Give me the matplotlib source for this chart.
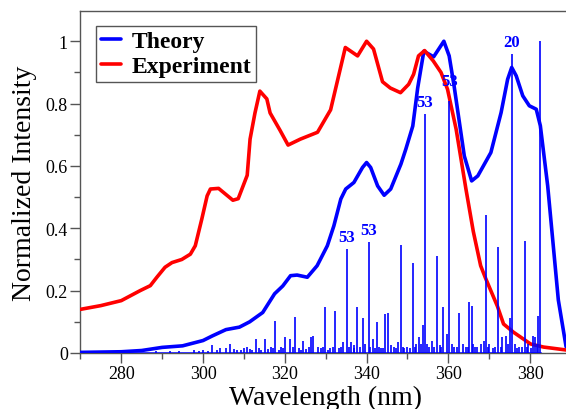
import matplotlib
matplotlib.use("Agg")
import matplotlib.pyplot as plt
from matplotlib.ticker import MultipleLocator

# ---- data ----
exp_nm = [270, 275, 280, 284.6, 287.1, 288.7, 290.7, 292.4, 294.8, 296.9, 298.1, 299.7, 301.0,
          301.8, 303.8, 307.3, 308.6, 310.8, 311.5, 312.7, 313.9, 315.6, 316.4, 318.8, 320.8,
          323.8, 328, 331.2, 334.8, 337.8, 340, 341.7, 343.9, 345.8, 348.3, 350.3, 351.5, 352.7,
          354.2, 356.3, 358.2, 359.8, 361.9, 364.3, 366.1, 367.9, 369.1, 372, 373.5, 375.9,
          380.1, 383.3, 388.6, 390]
exp_int = [0.14, 0.152, 0.168, 0.20, 0.216, 0.243, 0.275, 0.29, 0.30, 0.317, 0.344, 0.43, 0.504,
           0.526, 0.528, 0.49, 0.495, 0.57, 0.686, 0.77, 0.84, 0.815, 0.77, 0.715, 0.667,
           0.686, 0.708, 0.78, 0.98, 0.953, 1.0, 0.975, 0.87, 0.85, 0.835, 0.862, 0.894, 0.953,
           0.97, 0.937, 0.90, 0.846, 0.718, 0.526, 0.39, 0.28, 0.24, 0.15, 0.093, 0.067,
           0.029, 0.019, 0.01, 0.008]

th_nm = [270, 280, 285, 290, 295, 300, 302.3, 305.6, 308.9, 311.4, 314.6, 317.5, 319.5, 321.4,
         323.0, 325.5, 327.9, 330.4, 332.0, 333.7, 334.9, 336.9, 339.0, 340.0, 341.0, 342.7,
         344.3, 345.9, 348.4, 349.6, 351.3, 352.5, 354.0, 356.4, 358.9, 360.2, 361.4, 362.7,
         363.9, 365.7, 367.2, 370.4, 372.9, 374.5, 375.5, 376.6, 378.2, 379.8, 381.5, 382.5,
         384.3, 386.9, 388.8, 390]
th_int = [0.002, 0.004, 0.008, 0.018, 0.023, 0.04, 0.055, 0.075, 0.083, 0.10, 0.13, 0.19, 0.215,
          0.248, 0.25, 0.243, 0.28, 0.344, 0.408, 0.494, 0.526, 0.547, 0.595, 0.611, 0.595,
          0.536, 0.506, 0.526, 0.606, 0.654, 0.728, 0.85, 0.968, 0.95, 1.0, 0.953, 0.857, 0.74,
          0.632, 0.552, 0.568, 0.643, 0.771, 0.878, 0.916, 0.889, 0.825, 0.793, 0.782, 0.729,
          0.536, 0.17, 0.02, 0.005]

stick_nm = [335.1, 340.5, 354.3, 360.2, 375.5, 382.3,
            317.7, 322.5, 329.8, 332.3, 337.6, 339.1, 342.5, 344.5, 345.3, 348.4, 351.4, 353.8,
            357.2, 358.8, 362.7, 365.1, 365.7, 369.2, 372.2, 375.2, 378.8, 382.0, 380.7, 374.0,
            288.5, 292.0, 294.0, 297.9, 300.1, 302.2, 303.3, 304.2, 305.6, 306.7, 308.2, 310.1,
            310.7, 312.0, 313.0, 314.2, 315.2, 316.6, 318.5, 319.0, 320.1, 321.3, 323.4, 324.5,
            325.3, 326.4, 327.0, 328.2, 330.5, 331.1, 333.3, 334.3, 336.3, 337.0, 339.7, 341.6,
            343.6, 346.0, 346.8, 347.8, 349.2, 350.0, 352.2, 352.9, 355.3, 356.0, 357.9, 359.6,
            361.3, 363.5, 364.3, 366.5, 368.0, 368.6, 370.0, 370.9, 371.5, 373.2, 376.3, 377.4,
            378.0, 379.6, 381.2, 366.1,
            299.0, 301.2, 307.5, 309.3, 311.6, 313.6, 316.0, 317.2, 319.6, 322.0, 323.9, 326.0,
            328.8, 329.3, 331.8, 333.8, 335.6, 336.8, 338.3, 340.9, 342.0, 343.0, 344.0, 347.2,
            348.9, 350.6, 351.9, 353.3, 354.8, 356.6, 358.3, 360.8, 362.2, 364.8, 367.0, 369.8,
            372.8, 374.6, 376.9, 379.2, 380.2, 381.7]
stick_int = [0.333, 0.356, 0.766, 0.808, 0.958, 1.0,
             0.103, 0.115, 0.147, 0.134, 0.147, 0.112, 0.10, 0.125, 0.128, 0.346, 0.29, 0.09,
             0.31, 0.147, 0.128, 0.163, 0.15, 0.442, 0.34, 0.112, 0.36, 0.12, 0.055, 0.055,
             0.005, 0.005, 0.006, 0.01, 0.01, 0.026, 0.01, 0.015, 0.015, 0.028, 0.01, 0.015,
             0.02, 0.01, 0.045, 0.01, 0.045, 0.02, 0.01, 0.02, 0.05, 0.045, 0.015, 0.04,
             0.012, 0.05, 0.055, 0.02, 0.01, 0.015, 0.015, 0.035, 0.035, 0.015, 0.03, 0.045,
             0.015, 0.025, 0.02, 0.035, 0.015, 0.02, 0.03, 0.05, 0.02, 0.04, 0.025, 0.06,
             0.02, 0.03, 0.02, 0.02, 0.03, 0.04, 0.03, 0.015, 0.02, 0.05, 0.03, 0.02,
             0.02, 0.03, 0.05, 0.03,
             0.005, 0.008, 0.012, 0.01, 0.012, 0.015, 0.012, 0.015, 0.015, 0.02, 0.01, 0.02,
             0.015, 0.02, 0.02, 0.02, 0.02, 0.025, 0.02, 0.02, 0.015, 0.02, 0.015, 0.015,
             0.02, 0.015, 0.02, 0.03, 0.03, 0.02, 0.02, 0.03, 0.02, 0.02, 0.02, 0.02,
             0.02, 0.03, 0.015, 0.02, 0.015, 0.03]

label_nm = [335.1, 340.5, 354.3, 360.2, 375.5]
label_int = [0.333, 0.356, 0.766, 0.808, 0.958]
label_txt = ["53", "53", "53", "53", "20"]
label_off = [3, 3, 3, 9, 3]

xticks = [280, 300, 320, 340, 360, 380]
yticks = [0, 0.2, 0.4, 0.6, 0.8, 1.0]
ytick_labels = ["0", "0.2", "0.4", "0.6", "0.8", "1"]

# ---- figure ----
serif = ["Liberation Serif", "DejaVu Serif"]
plt.rcParams["font.family"] = serif

fig = plt.figure(figsize=(5.66, 4.10), dpi=100)
ax = fig.add_axes([80.4 / 566, 56 / 410, (571 - 80.4) / 566, 342 / 410])

ax.plot(th_nm, th_int, color="#0000ff", lw=2.6, label="Theory", zorder=3,
        solid_capstyle="round", solid_joinstyle="round")
ax.plot(exp_nm, exp_int, color="#ff0000", lw=2.6, label="Experiment", zorder=4,
        solid_capstyle="round", solid_joinstyle="round")
ax.vlines(stick_nm, 0, stick_int, color="#0000ff", lw=1.2, zorder=5)
ax.plot([270, max(stick_nm)], [0, 0], color="#0000ff", lw=1.8, zorder=5)

for x, y, t, o in zip(label_nm, label_int, label_txt, label_off):
    ax.annotate(t, (x, y), xytext=(0, o), textcoords="offset points", ha="center", va="bottom",
                color="#0000ff", fontsize=12, fontweight="bold", zorder=6)

ax.set_xlim(270, 390)
ax.set_ylim(0, 1.097)
ax.set_xticks(xticks)
ax.set_yticks(yticks)
ax.set_yticklabels(ytick_labels)
ax.xaxis.set_minor_locator(MultipleLocator(10))
ax.yaxis.set_minor_locator(MultipleLocator(0.1))
ax.tick_params(axis="both", which="major", direction="out", length=7, width=1, color="#555555",
               labelsize=13, pad=2)
ax.tick_params(axis="both", which="minor", direction="out", length=4, width=1, color="#555555")
for side in ["left", "bottom", "top", "right"]:
    ax.spines[side].set_color("#555555")
    ax.spines[side].set_linewidth(1)

ax.set_xlabel("Wavelength (nm)", fontsize=20, labelpad=2)
ax.set_ylabel("Normalized Intensity", fontsize=20, labelpad=6)

leg = ax.legend(loc="upper left", bbox_to_anchor=(0.032, 0.956), borderaxespad=0,
                prop={"family": serif, "weight": "bold", "size": 17},
                fancybox=False, edgecolor="#555555", framealpha=1,
                handlelength=0.85, handletextpad=0.45, borderpad=0.2, labelspacing=0.15)
leg.get_frame().set_linewidth(1)

fig.savefig("out.png", dpi=100)
